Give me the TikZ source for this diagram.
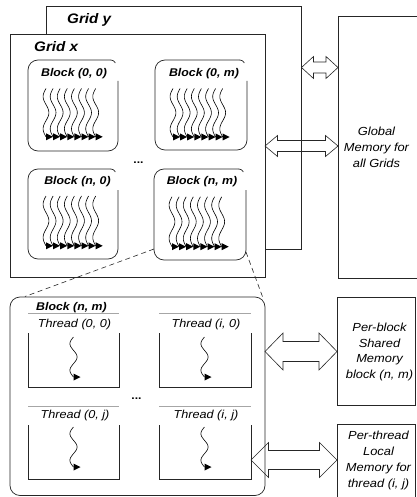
\documentclass[tikz,border=0pt]{standalone}
\usepackage{fontspec}
\setmainfont{Liberation Sans}[FakeStretch=1.1]
\begin{document}
% one unit = 1pt, y grows downwards
\begin{tikzpicture}[x=1pt,y=-1pt,
  frame/.style={draw=black!85, line width=0.7pt},
  topline/.style={draw=black!35, line width=0.6pt},
  bus/.style={draw=black!85, line width=0.6pt, line join=miter},
  zoomline/.style={draw=black!85, line width=0.6pt, dash pattern=on 5pt off 3.5pt},
  thr/.style={draw=black, line width=0.6pt},
  gridlabel/.style={font=\fontsize{13.8}{16}\selectfont\bfseries\itshape, anchor=base west, inner sep=0pt},
  blocklabel/.style={font=\fontsize{11.2}{13}\selectfont\bfseries\itshape, anchor=base, inner sep=0pt},
  threadlabel/.style={font=\fontsize{11.5}{13}\selectfont\itshape, anchor=base, inner sep=0pt},
  memtext/.style={font=\fontsize{11.7}{15.7}\selectfont\itshape, align=center, inner sep=0pt},
  dotslabel/.style={font=\fontsize{11}{13}\selectfont\bfseries, anchor=base, inner sep=0pt}
]
\useasboundingbox (0,0) rectangle (416,497);
\fill[white] (0,0) rectangle (416,497);

% wavy thread with a triangular tip: x, y top, y bottom, amplitude
\newcommand{\wavythread}[4]{%
  \draw[thr] plot[smooth, domain=#2:#3, samples=31, variable=\t]
    ({#1-#4*sin(540/(#3-#2)*(\t-#2))}, \t);
  \fill[black] (#1,#3-3.5) -- (#1+7,#3) -- (#1,#3+3.5) -- cycle;
}
% row of eight threads inside a block: left x, y top, y bottom
\newcommand{\threadrow}[3]{%
  \foreach \k in {0,...,7}{\wavythread{#1+7.1*\k}{#2}{#3}{2.9}}
}
% block outline with an open top-right corner: x0, y0, x1, y1
\newcommand{\blockframe}[4]{%
  \draw[frame, rounded corners=10pt]
    (#3,#2+21) -- (#3,#4) -- (#1,#4) -- (#1,#2) -- (#3-7,#2);
  \draw[frame] (#3-7.2,#2) .. controls (#3-5,#2) and (#3-3.8,#2+1) .. (#3-2.6,#2+3);
}
% thread cell: x0, y top line, y side start, x1, y bottom
\newcommand{\threadcell}[5]{%
  \draw[topline] (#1,#2) -- (#4,#2);
  \draw[frame] (#1,#3) -- (#1,#5) -- (#4,#5) -- (#4,#3);
}
% hollow double arrow: x left, x right, y centre, head height, shaft height, head length
\newcommand{\busarrow}[6]{%
  \draw[bus] (#1,#3) -- (#1+#6,#3-#4/2) -- (#1+#6,#3-#5/2) -- (#2-#6,#3-#5/2)
    -- (#2-#6,#3-#4/2) -- (#2,#3) -- (#2-#6,#3+#4/2) -- (#2-#6,#3+#5/2)
    -- (#1+#6,#3+#5/2) -- (#1+#6,#3+#4/2) -- cycle;
}

% grids
\draw[frame, fill=white] (46,6) rectangle (301,249);
\node[gridlabel] (gridy) at (67,23.3) {Grid y};
\draw[frame, fill=white] (10,34) rectangle (265,277.5);
\node[gridlabel] (gridx) at (34,51.7) {Grid x};

% blocks of grid x
\blockframe{28}{60}{118}{151}
\node[blocklabel] (b00) at (74,76.7) {Block (0, 0)};
\threadrow{46}{88.5}{136.8}

\blockframe{155}{60}{247}{150}
\node[blocklabel] (b0m) at (204,76.7) {Block (0, m)};
\threadrow{173}{88.5}{137}

\blockframe{28}{169}{118}{259}
\node[blocklabel] (bn0) at (77.5,184.5) {Block (n, 0)};
\threadrow{46}{196}{245.8}

\blockframe{154}{169}{246}{260}
\node[blocklabel] (bnm) at (202,184.8) {Block (n, m)};
\threadrow{172}{196.8}{246.7}

\node[dotslabel] (gdots) at (138.5,163.5) {...};

% enlarged block (n, m)
\draw[zoomline] (154,249) -- (25,296.5);
\draw[zoomline] (246,252) -- (263,298);
\draw[frame, rounded corners=10pt] (10,297) rectangle (265,495.5);
\node[blocklabel, anchor=base west] (bigb) at (36,310) {Block (n, m)};

\threadcell{28}{313}{333}{119}{387}
\node[threadlabel] (t00) at (74.5,327.6) {Thread (0, 0)};
\wavythread{73.5}{337}{377}{3.6}

\threadcell{159}{313.5}{333}{251}{387}
\node[threadlabel] (ti0) at (206,327.6) {Thread (i, 0)};
\wavythread{204.5}{337}{377}{3.6}

\threadcell{28}{406}{425}{119}{479}
\node[threadlabel] (t0j) at (75,418.2) {Thread (0, j)};
\wavythread{73.5}{427}{467}{3.6}

\threadcell{159}{406}{425}{251}{479}
\node[threadlabel] (tij) at (206,418.2) {Thread (i, j)};
\wavythread{204.5}{427}{467}{3.6}

\node[dotslabel] (tdots) at (136.5,399.5) {...};

% memories
\draw[frame] (338,16) rectangle (420,278);
\node[memtext] (glob) at (376.5,147.5) {Global\\Memory for\\all Grids};
\draw[frame] (337,297) rectangle (415,405);
\node[memtext] (shm) at (379.5,352) {Per-block\\Shared\\Memory\\block (n, m)};
\draw[frame] (337,424) rectangle (415,502);
\node[memtext] (lm) at (378.5,460.5) {Per-thread\\Local\\Memory for\\thread (i, j)};

% transfers
\busarrow{301.5}{338}{67.5}{22}{11}{12}
\busarrow{265}{338}{146}{21}{11}{12.5}
\busarrow{265}{337}{351.5}{37}{20}{18}
\busarrow{251}{337}{460}{35}{19}{17.5}
\end{tikzpicture}
\end{document}
